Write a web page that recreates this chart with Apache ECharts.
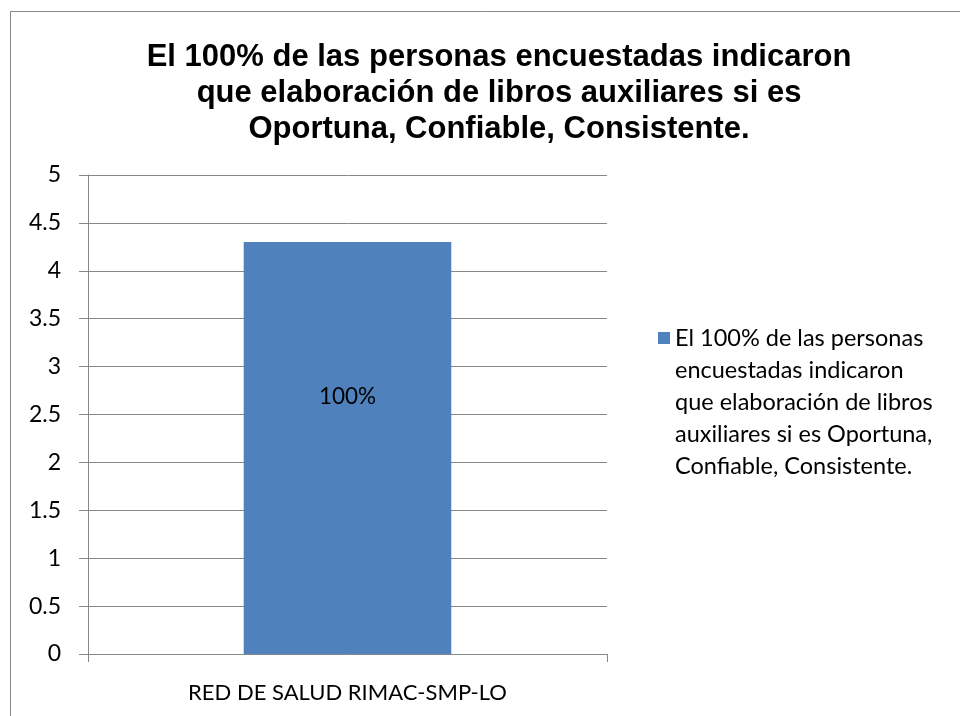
<!DOCTYPE html>
<html>
<head>
<meta charset="utf-8">
<script src="https://cdn.jsdelivr.net/npm/echarts@6/dist/echarts.min.js"></script>
<style>
html, body { margin: 0; padding: 0; background: #fff; }
#chart { width: 960px; height: 716px; }
</style>
</head>
<body>
<div id="chart"></div>
<script>
// datos
var categorias = ["RED DE SALUD RIMAC-SMP-LO"];
var valores = [4.3];
var etiquetas = ["100%"];
var serieNombre = "El 100% de las personas\nencuestadas indicaron\nque elaboración de libros\nauxiliares si es Oportuna,\nConfiable, Consistente.";
var titulo = "El 100% de las personas encuestadas indicaron\nque elaboración de libros auxiliares si es\nOportuna, Confiable, Consistente.";

var gris = "#878787";
var chart = echarts.init(document.getElementById("chart"));
var option = {
    animation: false,
    graphic: [
        {
            type: "rect",
            shape: { x: 10.5, y: 11.5, width: 1000, height: 1000 },
            style: { fill: "none", stroke: gris, lineWidth: 1 },
            silent: true,
        },
    ],
    title: {
        text: titulo,
        left: 494,
        top: 34,
        textAlign: "center",
        textStyle: {
            fontFamily: "Liberation Sans",
            fontWeight: "bold",
            fontSize: 31,
            lineHeight: 36,
            color: "#000",
        },
    },
    grid: {
        left: 88,
        right: 353,
        top: 175,
        bottom: 62,
    },
    legend: {
        data: [serieNombre],
        left: 653,
        top: 317,
        itemWidth: 12,
        itemHeight: 160,
        itemGap: 0,
        // cuadro arriba, alineado con la primera linea del texto
        icon: "path://M0,10L12,10L12,22L0,22Z M0,0L0.01,0 M0,160L0.01,160",
        selectedMode: false,
        textStyle: {
            fontFamily: "Lato",
            fontSize: 23.5,
            lineHeight: 32,
            color: "#000",
        },
    },
    xAxis: [
        {
            type: "category",
            data: categorias,
            axisLine: { lineStyle: { color: gris } },
            axisTick: { show: true, length: 8, lineStyle: { color: gris } },
            axisLabel: {
                margin: 28,
                fontFamily: "Lato",
                fontSize: 22,
                color: "#000",
            },
        },
    ],
    yAxis: [
        {
            type: "value",
            min: 0,
            max: 5,
            interval: 0.5,
            axisLine: { show: true, lineStyle: { color: gris } },
            axisTick: { show: true, length: 9, lineStyle: { color: gris } },
            splitLine: { lineStyle: { color: gris } },
            axisLabel: {
                margin: 27,
                fontFamily: "Lato",
                fontSize: 23,
                color: "#000",
            },
        },
    ],
    series: [
        {
            name: serieNombre,
            type: "bar",
            data: valores,
            barWidth: "40%",
            itemStyle: { color: "#4F81BD" },
            label: {
                show: true,
                position: ["50%", "37.5%"],
                align: "center",
                verticalAlign: "middle",
                fontFamily: "Lato",
                fontSize: 22.5,
                color: "#000",
                formatter: function (p) {
                    return etiquetas[p.dataIndex];
                },
            },
        },
    ],
};
chart.setOption(option);
</script>
</body>
</html>
